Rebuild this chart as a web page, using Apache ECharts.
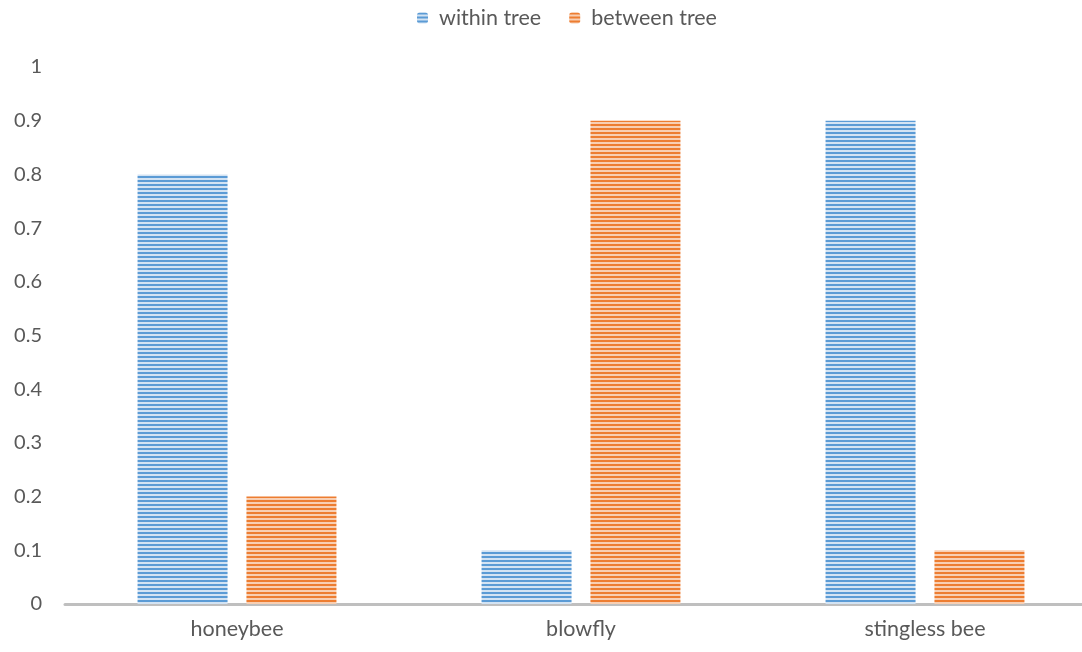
<!DOCTYPE html>
<html>
<head>
<meta charset="utf-8">
<script src="https://cdn.jsdelivr.net/npm/echarts@6/dist/echarts.min.js"></script>
<style>
  html, body { margin: 0; padding: 0; background: #fff; }
  #chart { width: 1082px; height: 652px; }
</style>
</head>
<body>
<div id="chart"></div>
<script>
const categories = ['honeybee', 'blowfly', 'stingless bee'];
const withinTree = [0.8, 0.1, 0.9];
const betweenTree = [0.2, 0.9, 0.1];
const yTicks = { min: 0, max: 1, interval: 0.1 };

// Horizontal stripe fill, like a "narrow horizontal" pattern fill
function stripes(dark, light) {
  const c = document.createElement('canvas');
  c.width = 8; c.height = 4;
  const g = c.getContext('2d');
  g.fillStyle = light; g.fillRect(0, 0, 8, 4);
  g.fillStyle = dark; g.fillRect(0, 0, 8, 2);
  return { image: c, repeat: 'repeat' };
}

const font = 'Lato, "Open Sans", sans-serif';
const chart = echarts.init(document.getElementById('chart'), null, { renderer: 'canvas' });
chart.setOption({
  animation: false,
  legend: {
    top: 2, left: 412,
    itemWidth: 11, itemHeight: 11, itemGap: 28,
    textStyle: { color: '#595959', fontSize: 21.5, fontFamily: font, padding: [0, 0, 0, 6] },
    data: ['within tree', 'between tree']
  },
  grid: { left: 65, width: 1032, top: 67, bottom: 48, containLabel: false, outerBoundsMode: 'none' },
  xAxis: {
    type: 'category', data: categories,
    axisLine: { lineStyle: { color: '#BFBFBF', width: 3 } },
    axisTick: { show: false },
    axisLabel: { color: '#595959', fontSize: 21.5, fontFamily: font, margin: 14 }
  },
  yAxis: {
    type: 'value', min: yTicks.min, max: yTicks.max, interval: yTicks.interval,
    axisLine: { show: false }, axisTick: { show: false },
    splitLine: { show: false },
    axisLabel: { color: '#595959', fontSize: 20, fontFamily: font, margin: 23,
      formatter: v => String(Math.round(v * 10) / 10) }
  },
  series: [
    {
      name: 'within tree', type: 'bar', data: withinTree,
      barWidth: 90, barGap: '21%',
      itemStyle: { color: stripes('#5B9BD5', '#D3E3F3') }
    },
    {
      name: 'between tree', type: 'bar', data: betweenTree,
      barWidth: 90,
      itemStyle: { color: stripes('#ED7D31', '#F8CFB3') }
    }
  ]
});
</script>
</body>
</html>
